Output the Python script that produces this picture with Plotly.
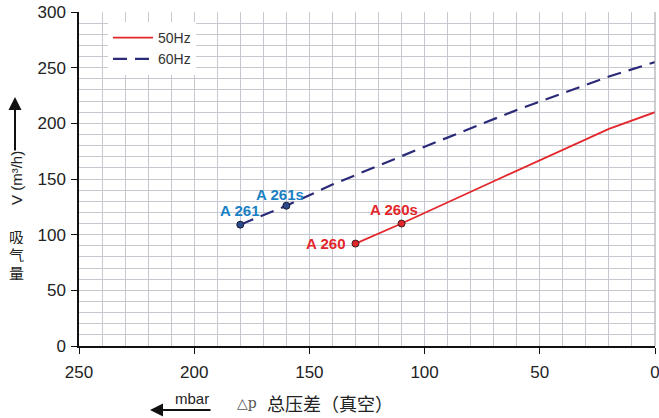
import plotly.graph_objects as go

# data
p50 = [130, 110, 70, 20, 0]
v50 = [92, 110, 148, 195, 210]
p60 = [180, 160, 140, 100, 60, 20, 0]
v60 = [109, 126, 145, 179, 212, 242, 255]
pts50_x = [130, 110]
pts50_y = [92, 110]
pts50_lbl = ["A 260", "A 260s"]
pts60_x = [180, 160]
pts60_y = [109, 126]
pts60_lbl = ["A 261", "A 261s"]
x_ticks = [250, 200, 150, 100, 50, 0]
y_ticks = [0, 50, 100, 150, 200, 250, 300]

RED = "#e3262b"
NAVY = "#2b2a78"
BLUE = "#1a80c4"
FONT = "Liberation Sans, Arial, sans-serif"

fig = go.Figure()
fig.add_trace(go.Scatter(x=p50, y=v50, mode="lines", name="50Hz",
                         line=dict(color=RED, width=1.8)))
fig.add_trace(go.Scatter(x=p60, y=v60, mode="lines", name="60Hz",
                         line=dict(color=NAVY, width=2.2, dash="14px,8px")))
fig.add_trace(go.Scatter(x=pts50_x, y=pts50_y, mode="markers", showlegend=False,
                         marker=dict(color=RED, size=7, line=dict(color="#3a2020", width=1))))
fig.add_trace(go.Scatter(x=pts60_x, y=pts60_y, mode="markers", showlegend=False,
                         marker=dict(color="#2a4a8a", size=7, line=dict(color="#1a1a3a", width=1))))

# point labels
lbl_pos50 = [dict(xanchor="right", yanchor="middle", xshift=-8, yshift=0),
             dict(xanchor="center", yanchor="middle", xshift=-8, yshift=14)]
lbl_pos60 = [dict(xanchor="center", yanchor="middle", xshift=-1, yshift=14),
             dict(xanchor="center", yanchor="middle", xshift=-6, yshift=11)]
for x, y, t, pos in zip(pts50_x, pts50_y, pts50_lbl, lbl_pos50):
    fig.add_annotation(x=x, y=y, text="<b>%s</b>" % t, showarrow=False,
                       font=dict(color=RED, size=15, family=FONT), **pos)
for x, y, t, pos in zip(pts60_x, pts60_y, pts60_lbl, lbl_pos60):
    fig.add_annotation(x=x, y=y, text="<b>%s</b>" % t, showarrow=False,
                       font=dict(color=BLUE, size=15, family=FONT), **pos)

# plot area on page: x 79..655, y 12..346
def px_x(p):
    return (p - 79) / 576.0

def px_y(p):
    return (346 - p) / 334.0

fig.add_annotation(xref="paper", yref="paper", x=px_x(16), y=px_y(178), text="V (m³/h)",
                   textangle=-90, showarrow=False, xanchor="center", yanchor="middle",
                   font=dict(size=15, color="#222", family=FONT))
for ch, yy in zip(["吸", "气", "量"], [236, 254, 272]):
    fig.add_annotation(xref="paper", yref="paper", x=px_x(16), y=px_y(yy), text=ch,
                       showarrow=False, xanchor="center", yanchor="middle", height=16,
                       font=dict(size=15, color="#222", family="Noto Sans CJK SC"))
fig.add_annotation(xref="paper", yref="paper", x=px_x(15), y=px_y(97), ax=0, ay=55,
                   axref="pixel", ayref="pixel", text="", showarrow=True,
                   arrowhead=2, arrowsize=1.3, arrowwidth=2, arrowcolor="#111")

# x-axis title pieces
fig.add_annotation(xref="paper", yref="paper", x=px_x(247), y=px_y(403), text="△p",
                   showarrow=False, xanchor="center", yanchor="middle",
                   font=dict(size=14, color="#555", family="DejaVu Serif"))
fig.add_annotation(xref="paper", yref="paper", x=px_x(330), y=px_y(403), text="总压差（真空）",
                   showarrow=False, xanchor="center", yanchor="middle",
                   font=dict(size=18, color="#222", family="Noto Sans CJK SC"))
fig.add_annotation(xref="paper", yref="paper", x=px_x(192), y=px_y(398), text="mbar",
                   showarrow=False, xanchor="center", yanchor="middle",
                   font=dict(size=15, color="#222", family=FONT))
fig.add_annotation(xref="paper", yref="paper", x=px_x(150), y=px_y(410), ax=62, ay=0,
                   axref="pixel", ayref="pixel", text="", showarrow=True,
                   arrowhead=2, arrowsize=1.3, arrowwidth=2, arrowcolor="#111")

fig.update_layout(
    width=659, height=418,
    margin=dict(l=79, r=4, t=12, b=72),
    paper_bgcolor="white", plot_bgcolor="white",
    font=dict(family=FONT, size=17, color="#222"),
    showlegend=True,
    legend=dict(x=px_x(108), y=px_y(22), xanchor="left", yanchor="top",
                bgcolor="white", borderwidth=0,
                font=dict(size=14, color="#333", family=FONT),
                tracegroupgap=0, itemwidth=40),
    xaxis=dict(range=[250, 0], tickvals=x_ticks, ticks="outside", ticklen=6,
               tickcolor="#111", showline=True, linecolor="#111", linewidth=1.5,
               mirror=False, automargin=False, ticklabelstandoff=4,
               ticklabeloverflow="allow",
               showgrid=True, gridcolor="#c6c8cf", gridwidth=1,
               minor=dict(dtick=10, showgrid=True, gridcolor="#c6c8cf", gridwidth=1),
               zeroline=False, tickfont=dict(size=17)),
    yaxis=dict(range=[0, 300], tickvals=y_ticks, ticks="outside", ticklen=6,
               tickcolor="#111", showline=True, linecolor="#111", linewidth=1.5,
               automargin=False, ticklabelstandoff=2, ticklabeloverflow="allow",
               showgrid=True, gridcolor="#c6c8cf", gridwidth=1,
               minor=dict(dtick=10, showgrid=True, gridcolor="#c6c8cf", gridwidth=1),
               zeroline=False, tickfont=dict(size=17)),
)
fig.add_shape(type="line", xref="paper", yref="paper", x0=1, x1=1, y0=0, y1=1,
              line=dict(color="#9a9ca4", width=1))

fig.write_html("out.html", config={"displayModeBar": False},
               post_script="document.body.style.margin='0';document.body.style.overflow='hidden';")
